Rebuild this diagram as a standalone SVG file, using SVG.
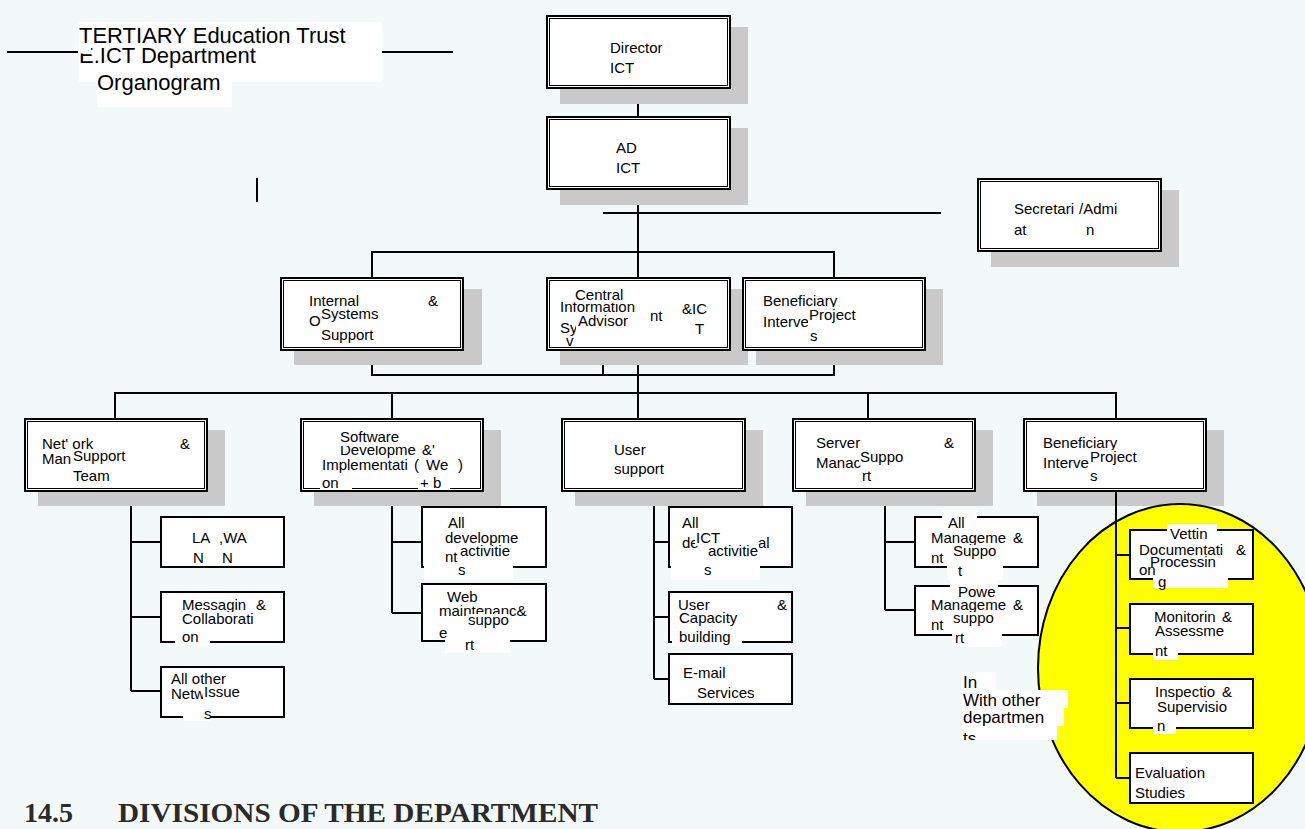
<svg xmlns="http://www.w3.org/2000/svg" width="1305" height="829" viewBox="0 0 1305 829">
<defs>
<style>
.t{font-family:"Liberation Sans",Arial,sans-serif;font-size:15px;fill:#000}
.ti{font-family:"Liberation Sans",Arial,sans-serif;font-size:22px;fill:#000}
.tw{font-family:"Liberation Sans",Arial,sans-serif;font-size:17px;fill:#000}
.hd{font-family:"Liberation Serif","Times New Roman",serif;font-size:28px;font-weight:bold;fill:#2a2a2a}
.w{fill:#fff}
.sh{fill:#c9c9c9}
.ob{fill:#fff;stroke:#000;stroke-width:2}
.ib{fill:none;stroke:#000;stroke-width:1}
.cb{fill:#fff;stroke:#000;stroke-width:2}
.ln{fill:none;stroke:#000;stroke-width:2}
</style>
<clipPath id="clipIn"><rect x="950" y="660" width="130" height="80"/></clipPath>
</defs>
<rect x="0" y="0" width="1305" height="829" fill="#f2f9f8"/>

<g id="title">
<path class="ln" d="M7 52H79M382 52H453"/>
<rect class="w" x="79" y="22" width="303" height="60"/>
<rect class="w" x="97" y="82" width="135" height="25"/>
<text class="ti" x="79" y="43">TERTIARY Education Trust</text>
<text class="ti" x="79" y="63">E.ICT Department</text>
<rect class="w" x="78" y="45" width="13" height="8.5"/>
<text class="ti" x="97" y="90">Organogram</text>
<path class="ln" d="M257 178V202"/>
</g>

<g id="connectors">
<path class="ln" d="M638 88V418"/>
<path class="ln" d="M603 213H941"/>
<path class="ln" d="M372 277V252H834V277"/>
<path class="ln" d="M372 351V375H834V351M603 351V375"/>
<path class="ln" d="M115 418V393H1116V418M392 393V418M868 393V418"/>
<path class="ln" d="M131 492V691M131 542H161M131 617H161M131 691H161"/>
<path class="ln" d="M392 492V613M392 542H422M392 613H422"/>
<path class="ln" d="M654 492V679M654 542H669M654 617H669M654 679H669"/>
<path class="ln" d="M885 492V610M885 542H915M885 610H915"/>
</g>

<g id="director">
<rect class="sh" x="560" y="27" width="188" height="77"/>
<rect class="ob" x="547" y="16" width="183" height="72"/>
<rect class="ib" x="549.5" y="18.5" width="178" height="67"/>
<text class="t" x="610" y="53">Director</text>
<text class="t" x="610" y="73">ICT</text>
</g>

<g id="ad">
<rect class="sh" x="560" y="128" width="188" height="77"/>
<rect class="ob" x="547" y="117" width="183" height="72"/>
<rect class="ib" x="549.5" y="119.5" width="178" height="67"/>
<text class="t" x="616" y="153">AD</text>
<text class="t" x="616" y="173">ICT</text>
</g>

<g id="secretariat">
<rect class="sh" x="991" y="190" width="188" height="77"/>
<rect class="ob" x="978" y="179" width="183" height="72"/>
<rect class="ib" x="980.5" y="181.5" width="178" height="67"/>
<text class="t" x="1014" y="214">Secretari</text>
<text class="t" x="1079" y="214">/Admi</text>
<text class="t" x="1014" y="235">at</text>
<text class="t" x="1086" y="235">n</text>
</g>

<g id="internal">
<rect class="sh" x="294" y="289" width="188" height="76"/>
<rect class="ob" x="281" y="278" width="182" height="72"/>
<rect class="ib" x="283.5" y="280.5" width="177" height="67"/>
<text class="t" x="309" y="306">Internal</text>
<text class="t" x="428" y="306">&amp;</text>
<text class="t" x="309" y="326">O</text>
<text class="t" x="321" y="319">Systems</text>
<text class="t" x="321" y="340">Support</text>
</g>

<g id="central">
<rect class="sh" x="560" y="289" width="188" height="76"/>
<rect class="ob" x="547" y="278" width="183" height="72"/>
<rect class="ib" x="549.5" y="280.5" width="178" height="67"/>
<text class="t" x="560" y="312">Information</text>
<rect class="w" x="574" y="288" width="51" height="14.5"/>
<text class="t" x="575" y="300">Central</text>
<text class="t" x="560" y="333">Sy</text>
<rect class="w" x="576" y="314" width="53" height="15"/>
<text class="t" x="578" y="326">Advisor</text>
<text class="t" x="650" y="321">nt</text>
<text class="t" x="682" y="314">&amp;IC</text>
<text class="t" x="695" y="334">T</text>
<text class="t" x="566" y="346">v</text>
</g>

<g id="beneficiary-projects">
<rect class="sh" x="756" y="289" width="187" height="76"/>
<rect class="ob" x="743" y="278" width="182" height="72"/>
<rect class="ib" x="745.5" y="280.5" width="177" height="67"/>
<text class="t" x="763" y="306">Beneficiary</text>
<text class="t" x="763" y="327">Interve</text>
<rect class="w" x="808" y="307" width="50" height="17"/>
<text class="t" x="809" y="320">Project</text>
<text class="t" x="810" y="341">s</text>
</g>

<g id="network">
<rect class="sh" x="38" y="430" width="187" height="76"/>
<rect class="ob" x="25" y="419" width="182" height="72"/>
<rect class="ib" x="27.5" y="421.5" width="177" height="67"/>
<text class="t" x="42" y="449">Net' ork</text>
<text class="t" x="180" y="449">&amp;</text>
<text class="t" x="42" y="464">Man</text>
<rect class="w" x="72" y="449" width="55" height="15"/>
<text class="t" x="73" y="461">Support</text>
<text class="t" x="73" y="481">Team</text>
</g>

<g id="software">
<rect class="sh" x="314" y="430" width="187" height="76"/>
<rect class="ob" x="301" y="419" width="182" height="72"/>
<rect class="ib" x="303.5" y="421.5" width="177" height="67"/>
<text class="t" x="340" y="455">Developme</text>
<rect class="w" x="338" y="429" width="62" height="17"/>
<text class="t" x="340" y="442">Software</text>
<text class="t" x="422" y="455">&amp;'</text>
<text class="t" x="322" y="470">Implementati</text>
<text class="t" x="414" y="470">(</text>
<text class="t" x="426" y="470">We</text>
<text class="t" x="458" y="470">)</text>
<rect class="w" x="320" y="477" width="32" height="12.5"/>
<rect class="w" x="418" y="477" width="32" height="12.5"/>
<text class="t" x="322" y="488">on</text>
<text class="t" x="420" y="488">+ b</text>
</g>

<g id="user-support">
<rect class="sh" x="575" y="430" width="188" height="76"/>
<rect class="ob" x="562" y="419" width="183" height="72"/>
<rect class="ib" x="564.5" y="421.5" width="178" height="67"/>
<text class="t" x="614" y="455">User</text>
<text class="t" x="614" y="474">support</text>
</g>

<g id="server">
<rect class="sh" x="806" y="430" width="187" height="76"/>
<rect class="ob" x="793" y="419" width="182" height="72"/>
<rect class="ib" x="795.5" y="421.5" width="177" height="67"/>
<text class="t" x="816" y="448">Server</text>
<text class="t" x="944" y="448">&amp;</text>
<text class="t" x="816" y="468">Manac</text>
<rect class="w" x="859" y="450" width="46" height="15"/>
<text class="t" x="860" y="462">Suppo</text>
<text class="t" x="862" y="481">rt</text>
</g>

<g id="beneficiary-projects-2">
<rect class="sh" x="1037" y="430" width="187" height="76"/>
<rect class="ob" x="1024" y="419" width="182" height="72"/>
<rect class="ib" x="1026.5" y="421.5" width="177" height="67"/>
<text class="t" x="1043" y="448">Beneficiary</text>
<text class="t" x="1043" y="468">Interve</text>
<rect class="w" x="1089" y="450" width="49" height="15"/>
<text class="t" x="1090" y="462">Project</text>
<text class="t" x="1090" y="481">s</text>
</g>

<g id="lan-wan">
<rect class="cb" x="161" y="517" width="123" height="50"/>
<text class="t" x="192" y="543">LA</text>
<text class="t" x="219" y="543">,WA</text>
<text class="t" x="193" y="563">N</text>
<text class="t" x="222" y="563">N</text>
</g>

<g id="messaging">
<rect class="cb" x="161" y="592" width="123" height="50"/>
<text class="t" x="182" y="610">Messagin</text>
<text class="t" x="256" y="610">&amp;</text>
<rect class="w" x="181" y="612" width="76" height="14"/>
<text class="t" x="182" y="624">Collaborati</text>
<rect class="w" x="175" y="630" width="35" height="16"/>
<text class="t" x="182" y="642">on</text>
</g>

<g id="other-network">
<rect class="cb" x="161" y="667" width="123" height="50"/>
<text class="t" x="171" y="684">All other</text>
<text class="t" x="171" y="699">Netw</text>
<rect class="w" x="203" y="686" width="38" height="14"/>
<text class="t" x="204" y="697">Issue</text>
<rect class="w" x="183" y="705" width="27" height="16"/>
<text class="t" x="204" y="719">s</text>
</g>

<g id="developments">
<rect class="cb" x="422" y="507" width="124" height="60"/>
<text class="t" x="448" y="528">All</text>
<text class="t" x="445" y="543">developme</text>
<text class="t" x="445" y="562">nt</text>
<rect class="w" x="459" y="545" width="53" height="14"/>
<text class="t" x="460" y="556">activitie</text>
<rect class="w" x="424" y="564" width="89" height="16"/>
<text class="t" x="458" y="575">s</text>
</g>

<g id="web-maintenance">
<rect class="cb" x="422" y="584" width="124" height="57"/>
<text class="t" x="447" y="602">Web</text>
<text class="t" x="439" y="616">maintenanc&amp;</text>
<text class="t" x="439" y="638">e</text>
<rect class="w" x="467" y="614" width="43" height="14"/>
<text class="t" x="468" y="625">suppo</text>
<rect class="w" x="445" y="638" width="65" height="15"/>
<text class="t" x="465" y="650">rt</text>
</g>

<g id="departmental-ict">
<rect class="cb" x="669" y="507" width="123" height="60"/>
<text class="t" x="682" y="528">All</text>
<text class="t" x="682" y="548">de</text>
<text class="t" x="758" y="548">al</text>
<rect class="w" x="695" y="532" width="27" height="13"/>
<text class="t" x="696" y="543">ICT</text>
<rect class="w" x="706" y="545" width="53" height="14"/>
<text class="t" x="708" y="556">activitie</text>
<rect class="w" x="671" y="562" width="89" height="18"/>
<text class="t" x="704" y="575">s</text>
</g>

<g id="user-capacity">
<rect class="cb" x="669" y="592" width="123" height="50"/>
<text class="t" x="678" y="610">User</text>
<text class="t" x="777" y="610">&amp;</text>
<text class="t" x="679" y="623">Capacity</text>
<rect class="w" x="672" y="626" width="70" height="20"/>
<text class="t" x="679" y="642">building</text>
</g>

<g id="email">
<rect class="cb" x="669" y="654" width="123" height="50"/>
<text class="t" x="683" y="678">E-mail</text>
<text class="t" x="697" y="698">Services</text>
</g>

<g id="management-support">
<rect class="cb" x="915" y="517" width="123" height="50"/>
<rect class="w" x="942" y="510" width="35" height="20"/>
<text class="t" x="948" y="528">All</text>
<text class="t" x="931" y="543">Manageme</text>
<text class="t" x="1013" y="543">&amp;</text>
<text class="t" x="931" y="563">nt</text>
<rect class="w" x="952" y="545" width="45" height="14"/>
<text class="t" x="953" y="556">Suppo</text>
<rect class="w" x="947" y="562" width="56" height="18"/>
<text class="t" x="958" y="576">t</text>
</g>

<g id="power-management">
<rect class="cb" x="915" y="586" width="123" height="49"/>
<rect class="w" x="950" y="580" width="48" height="20"/>
<text class="t" x="958" y="597">Powe</text>
<text class="t" x="931" y="610">Manageme</text>
<text class="t" x="1013" y="610">&amp;</text>
<text class="t" x="931" y="630">nt</text>
<rect class="w" x="952" y="612" width="43" height="14"/>
<text class="t" x="953" y="623">suppo</text>
<rect class="w" x="952" y="630" width="50" height="17"/>
<text class="t" x="955" y="643">rt</text>
</g>

<g id="coordination-area">
<ellipse cx="1180" cy="668" rx="142" ry="164" fill="#ffff00" stroke="#000" stroke-width="2"/>
<path class="ln" d="M1116 492V778M1116 555H1130M1116 628H1130M1116 703H1130M1116 778H1130"/>
<g clip-path="url(#clipIn)">
<rect class="w" x="962" y="672" width="34" height="19"/>
<rect class="w" x="962" y="690" width="106" height="18"/>
<rect class="w" x="962" y="708" width="102" height="18"/>
<rect class="w" x="962" y="726" width="95" height="14"/>
<text class="tw" x="963" y="688">In</text>
<text class="tw" x="963" y="706">With other</text>
<text class="tw" x="963" y="723">departmen</text>
<text class="tw" x="963" y="744">ts</text>
</g>
</g>

<g id="vetting">
<rect class="cb" x="1130" y="530" width="123" height="49"/>
<rect class="w" x="1167" y="524" width="50" height="18"/>
<text class="t" x="1170" y="539">Vettin</text>
<text class="t" x="1139" y="555">Documentati</text>
<text class="t" x="1236" y="555">&amp;</text>
<rect class="w" x="1153" y="557" width="75" height="31"/>
<text class="t" x="1150" y="567">Processin</text>
<text class="t" x="1139" y="575">on</text>
<text class="t" x="1158" y="587">g</text>
</g>

<g id="monitoring">
<rect class="cb" x="1130" y="604" width="123" height="50"/>
<text class="t" x="1154" y="622">Monitorin</text>
<text class="t" x="1222" y="622">&amp;</text>
<text class="t" x="1155" y="636">Assessme</text>
<rect class="w" x="1153" y="644" width="25" height="16"/>
<text class="t" x="1155" y="656">nt</text>
</g>

<g id="inspection">
<rect class="cb" x="1130" y="679" width="123" height="49"/>
<text class="t" x="1155" y="697">Inspectio</text>
<text class="t" x="1222" y="697">&amp;</text>
<rect class="w" x="1156" y="700" width="72" height="14"/>
<text class="t" x="1157" y="712">Supervisio</text>
<rect class="w" x="1153" y="719" width="23" height="15"/>
<text class="t" x="1157" y="731">n</text>
</g>

<g id="evaluation">
<rect class="cb" x="1130" y="753" width="123" height="50"/>
<text class="t" x="1135" y="778">Evaluation</text>
<text class="t" x="1135" y="798">Studies</text>
</g>

<g id="heading">
<text class="hd" x="24" y="822">14.5</text>
<text class="hd" x="118" y="822" textLength="480" lengthAdjust="spacingAndGlyphs">DIVISIONS OF THE DEPARTMENT</text>
</g>
</svg>
